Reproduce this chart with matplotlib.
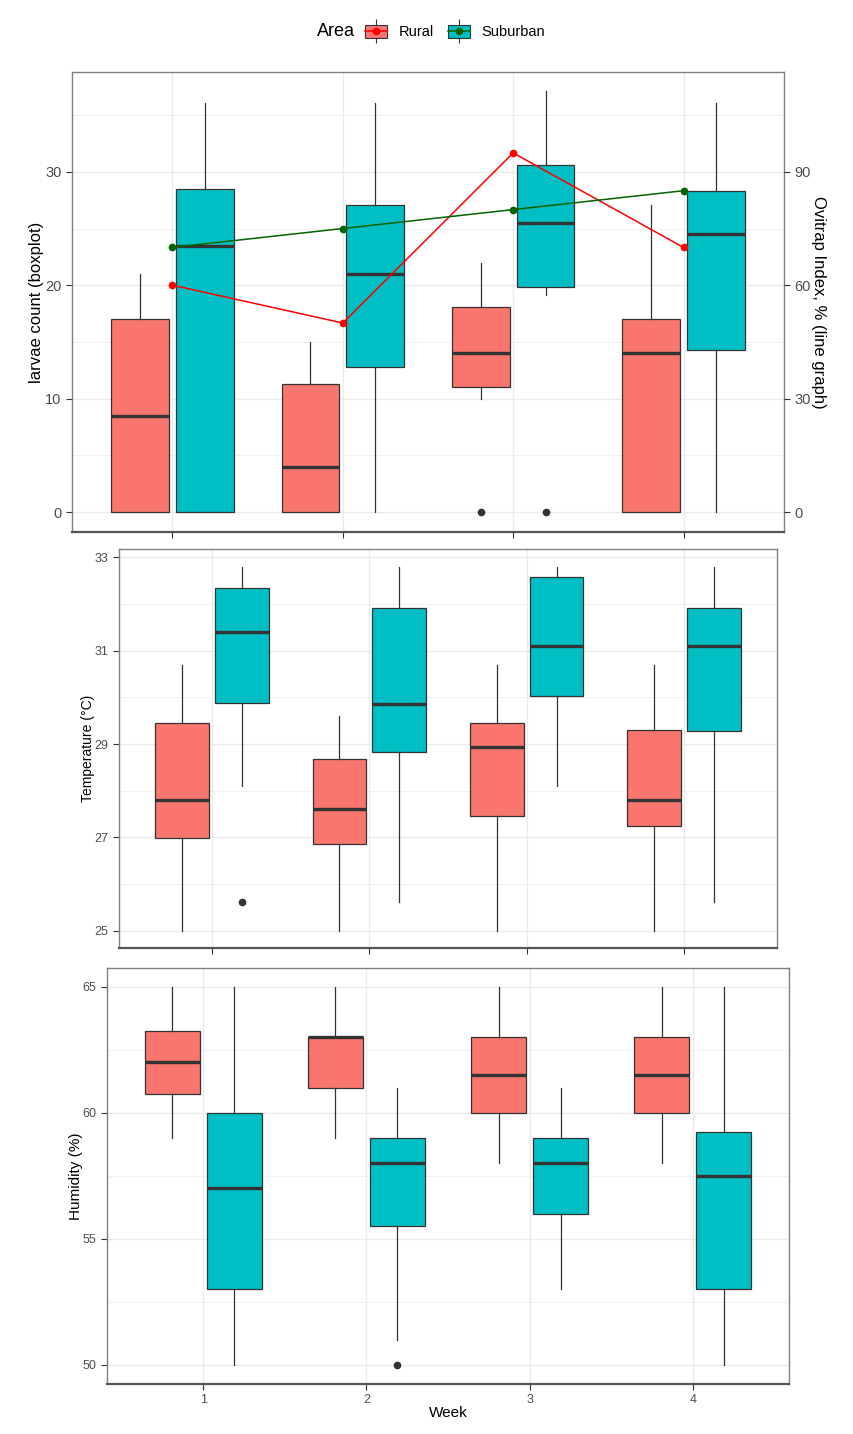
import numpy as np
import matplotlib.pyplot as plt
from matplotlib.patches import Patch
from matplotlib.lines import Line2D
from matplotlib.legend_handler import HandlerTuple

plt.rcParams['font.family'] = ['Liberation Sans', 'DejaVu Sans']

weeks = [1, 2, 3, 4]
rural_color = '#F8766D'
suburban_color = '#00BFC4'

# box stats per week: (whisker low, q1, median, q3, whisker high, outliers)
larvae_rural = [(0, 0, 8.5, 17, 21, []), (0, 0, 4, 11.3, 15, []),
                (10, 11, 14, 18.1, 22, [0]), (0, 0, 14, 17, 27.1, [])]
larvae_suburban = [(0, 0, 23.5, 28.5, 36.1, []), (0, 12.8, 21, 27.1, 36.1, []),
                   (19.1, 19.8, 25.5, 30.6, 37.1, [0]), (0, 14.3, 24.5, 28.3, 36.1, [])]

ovitrap_rural = [60, 50, 95, 70]
ovitrap_suburban = [70, 75, 80, 85]

temp_rural = [(25, 26.98, 27.8, 29.45, 30.7, []), (25, 26.86, 27.6, 28.69, 29.6, []),
              (25, 27.45, 28.94, 29.45, 30.7, []), (25, 27.24, 27.8, 29.3, 30.7, [])]
temp_suburban = [(28.11, 29.88, 31.4, 32.34, 32.79, [25.61]), (25.61, 28.83, 29.85, 31.91, 32.79, []),
                 (28.11, 30.03, 31.1, 32.59, 32.79, []), (25.61, 29.28, 31.1, 31.91, 32.79, [])]

hum_rural = [(59, 60.76, 62, 63.26, 65, []), (59, 61, 63, 63, 65, []),
             (58, 60, 61.5, 63, 65, []), (58, 60, 61.5, 63, 65, [])]
hum_suburban = [(50, 53, 57, 60, 65, []), (51, 55.5, 58, 59, 61, [50]),
                (53, 56, 58, 59, 61, []), (50, 53, 57.5, 59.25, 65, [])]


def draw_boxes(ax, data, offset, color):
    stats = []
    for lo, q1, med, q3, hi, out in data:
        stats.append(dict(whislo=lo, q1=q1, med=med, q3=q3, whishi=hi, fliers=out))
    pos = [w + offset for w in weeks]
    ax.bxp(stats, positions=pos, widths=0.34, patch_artist=True, showcaps=False,
           boxprops=dict(facecolor=color, edgecolor='#333333', linewidth=0.9),
           medianprops=dict(color='#333333', linewidth=2.4),
           whiskerprops=dict(color='#333333', linewidth=0.9),
           flierprops=dict(marker='o', markerfacecolor='#333333',
                           markeredgecolor='#333333', markersize=4.5))


def style(ax, major, minor, lim, labelsize):
    ax.set_xlim(0.41, 4.59)
    ax.set_ylim(*lim)
    ax.set_xticks(weeks)
    ax.set_xticks([], minor=True)
    ax.set_yticks(major)
    ax.set_yticks(minor, minor=True)
    ax.grid(True, which='major', color='#EBEBEB', linewidth=1.0)
    ax.grid(True, which='minor', axis='y', color='#EBEBEB', linewidth=0.5)
    ax.set_axisbelow(True)
    for s in ax.spines.values():
        s.set_color('#808080')
        s.set_linewidth(1.0)
    ax.spines['bottom'].set_color('#555555')
    ax.spines['bottom'].set_linewidth(1.6)
    ax.tick_params(which='major', length=4, color='#333333', labelcolor='#4D4D4D',
                   labelsize=labelsize)
    ax.tick_params(which='minor', length=0)


fig = plt.figure(figsize=(8.54, 14.34), dpi=100)

# top panel
ax1 = fig.add_axes([72 / 854, 1 - 532 / 1434, 712 / 854, 460 / 1434])
draw_boxes(ax1, larvae_rural, -0.19, rural_color)
draw_boxes(ax1, larvae_suburban, 0.19, suburban_color)
style(ax1, [0, 10, 20, 30], [5, 15, 25, 35], (-1.76, 38.8), 10.5)
ax1.set_xticklabels([])
ax1.set_ylabel('larvae count (boxplot)', fontsize=12, color='black', labelpad=1)

ax1r = ax1.twinx()
ax1r.set_ylim(-1.76 * 3, 38.8 * 3)
ax1r.set_yticks([0, 30, 60, 90])
ax1r.plot(weeks, ovitrap_rural, color='red', linewidth=1.1, marker='o', markersize=4.5)
ax1r.plot(weeks, ovitrap_suburban, color='darkgreen', linewidth=1.1, marker='o', markersize=4.5)
for s in ax1r.spines.values():
    s.set_visible(False)
ax1r.tick_params(length=4, color='#333333', labelcolor='#4D4D4D', labelsize=10.5)
ax1r.set_ylabel('Ovitrap Index, % (line graph)', fontsize=12, rotation=270,
                labelpad=11, color='black')

# middle panel
ax2 = fig.add_axes([119 / 854, 1 - 948 / 1434, 658 / 854, 399 / 1434])
draw_boxes(ax2, temp_rural, -0.19, rural_color)
draw_boxes(ax2, temp_suburban, 0.19, suburban_color)
style(ax2, [25, 27, 29, 31, 33], [26, 28, 30, 32], (24.63, 33.18), 9)
ax2.set_xticklabels([])
ax2.set_ylabel('Temperature (°C)', fontsize=10, color='black', labelpad=0)

# bottom panel
ax3 = fig.add_axes([107 / 854, 1 - 1384 / 1434, 682 / 854, 416 / 1434])
draw_boxes(ax3, hum_rural, -0.19, rural_color)
draw_boxes(ax3, hum_suburban, 0.19, suburban_color)
style(ax3, [50, 55, 60, 65], [52.5, 57.5, 62.5], (49.24, 65.74), 9)
ax3.set_xticklabels([str(w) for w in weeks])
ax3.set_ylabel('Humidity (%)', fontsize=11, color='black', labelpad=0)
ax3.set_xlabel('Week', fontsize=11, color='black', labelpad=0)

# legend
handles = []
for fc, lc in [(rural_color, 'red'), (suburban_color, 'darkgreen')]:
    whisk = Line2D([], [], color='#333333', linestyle='none', marker='|', markersize=17,
                   markeredgewidth=0.8)
    box = Patch(facecolor=fc, edgecolor='#333333', linewidth=0.8)
    ln = Line2D([], [], color=lc, linewidth=1.1, marker='o', markersize=4.5)
    handles.append((whisk, box, ln))
fig.legend(handles, ['Rural', 'Suburban'], handler_map={tuple: HandlerTuple(ndivide=1, pad=0)},
           loc='center', bbox_to_anchor=(455 / 854, 1 - 32 / 1434), ncol=2, frameon=False,
           fontsize=10.5, handlelength=1.5, handleheight=1.0, columnspacing=1.0,
           handletextpad=0.8)
fig.text(336 / 854, 1 - 32 / 1434, 'Area', fontsize=13, ha='center', va='center')

fig.savefig('out.png', dpi=100)
